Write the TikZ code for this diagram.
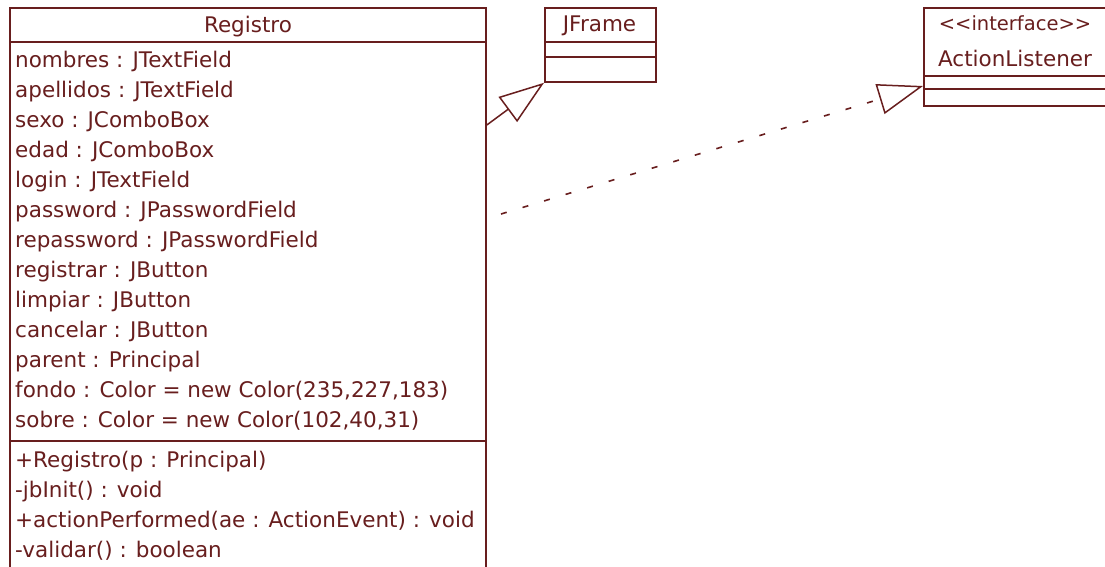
\documentclass[tikz,border=0pt]{standalone}
\usepackage{fontspec}
\setmainfont{DejaVu Sans}
\usetikzlibrary{arrows.meta}
\definecolor{umlc}{RGB}{104,30,30}
\tikzset{
  umlbox/.style={draw=umlc, line width=1.8pt, inner sep=0pt, anchor=north west, fill=none},
  sepline/.style={draw=umlc, line width=1.8pt},
  umltxt/.style={text=umlc, inner sep=0pt, anchor=base west, font=\fontsize{21.5}{26}\selectfont},
  umltitle/.style={text=umlc, inner sep=0pt, anchor=base, font=\fontsize{21.5}{26}\selectfont},
  stereo/.style={text=umlc, inner sep=0pt, anchor=base, font=\fontsize{19.5}{24}\selectfont},
  genline/.style={draw=umlc, line width=1.5pt, -{Triangle[open, length=45pt, width=31pt, line width=1.5pt]}},
  realline/.style={draw=umlc, line width=1.6pt, dash pattern=on 6pt off 16.5pt, -{Triangle[open, length=45pt, width=31pt, line width=1.5pt]}}
}
\begin{document}
\begin{tikzpicture}[x=1pt,y=-1pt]
\useasboundingbox (0,0) rectangle (1105,566);
\clip (0,0) rectangle (1105,566);
\fill[white] (0,0) rectangle (1105,566);
% Registro class
\node[umlbox, minimum width=476pt, minimum height=570pt] (registro) at (9,7) {};
\draw[sepline] (registro.west |- 0,42) -- (registro.east |- 0,42);
\draw[sepline] (registro.west |- 0,441) -- (registro.east |- 0,441);
\node[umltitle] (rtitle) at (248,32) {Registro};
\node[umltxt] (a1) at (15,67) {nombres : JTextField};
\node[umltxt] (a2) at (15,97) {apellidos : JTextField};
\node[umltxt] (a3) at (15,127) {sexo : JComboBox};
\node[umltxt] (a4) at (15,157) {edad : JComboBox};
\node[umltxt] (a5) at (15,187) {login : JTextField};
\node[umltxt] (a6) at (15,217) {password : JPasswordField};
\node[umltxt] (a7) at (15,247) {repassword : JPasswordField};
\node[umltxt] (a8) at (15,277) {registrar : JButton};
\node[umltxt] (a9) at (15,307) {limpiar : JButton};
\node[umltxt] (a10) at (15,337) {cancelar : JButton};
\node[umltxt] (a11) at (15,367) {parent : Principal};
\node[umltxt] (a12) at (15,397) {fondo : Color = new Color(235,227,183)};
\node[umltxt] (a13) at (15,427) {sobre : Color = new Color(102,40,31)};
\node[umltxt] (m1) at (15,467) {+Registro(p : Principal)};
\node[umltxt] (m2) at (15,497) {-jbInit() : void};
\node[umltxt] (m3) at (15,527) {+actionPerformed(ae : ActionEvent) : void};
\node[umltxt] (m4) at (15,557) {-validar() : boolean};
% JFrame class
\node[umlbox, minimum width=111pt, minimum height=74pt] (jframe) at (544,7) {};
\draw[sepline] (jframe.west |- 0,42) -- (jframe.east |- 0,42);
\draw[sepline] (jframe.west |- 0,57) -- (jframe.east |- 0,57);
\node[umltitle] (jtitle) at (599.5,31) {JFrame};
% ActionListener interface
\node[umlbox, minimum width=186pt, minimum height=98pt] (alist) at (923,7) {};
\draw[sepline] (alist.west |- 0,76) -- (alist.east |- 0,76);
\draw[sepline] (alist.west |- 0,89) -- (alist.east |- 0,89);
\node[stereo] (astereo) at (1015,30) {{<}{<}interface{>}{>}};
\node[umltitle] (atitle) at (1015,66) {ActionListener};
% connectors
\coordinate (gstart) at (registro.east |- 0,125);
\coordinate (rstart) at (501,214);
\draw[genline] (gstart) -- (jframe.south west);
\draw[realline] (rstart) -- (alist.west |- 0,86);
\end{tikzpicture}
\end{document}
